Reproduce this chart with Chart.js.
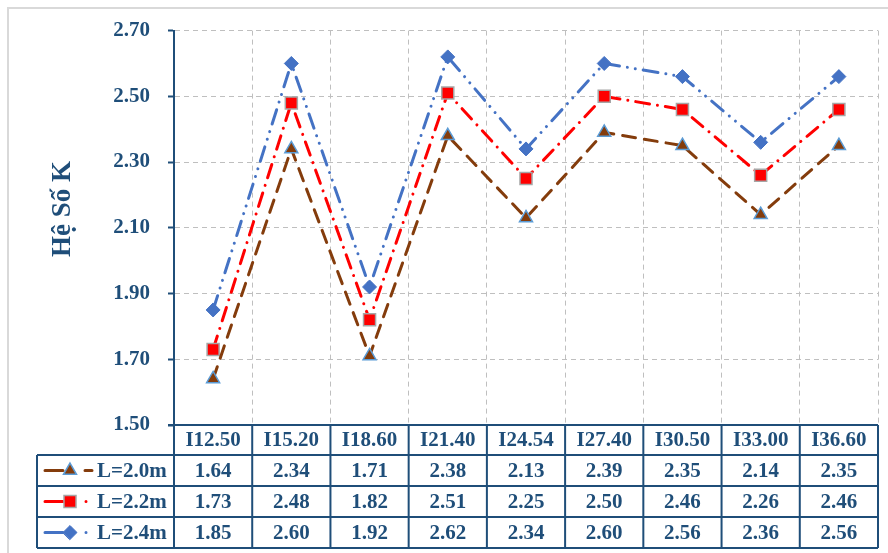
<!DOCTYPE html>
<html>
<head>
<meta charset="utf-8">
<script src="https://cdn.jsdelivr.net/npm/chart.js@4/dist/chart.umd.min.js"></script>
<style>
  html, body { margin: 0; padding: 0; background: #ffffff; }
  #wrap { position: relative; width: 888px; height: 553px; }
</style>
</head>
<body>
<div id="wrap"><canvas id="chart" width="888" height="553"></canvas></div>
<script>
// Sections along the horizontal axis
const categories = ['I12.50', 'I15.20', 'I18.60', 'I21.40', 'I24.54', 'I27.40', 'I30.50', 'I33.00', 'I36.60'];

// K coefficient for each span length
const seriesNames = ['L=2.0m', 'L=2.2m', 'L=2.4m'];
const kL20 = [1.64, 2.34, 1.71, 2.38, 2.13, 2.39, 2.35, 2.14, 2.35];
const kL22 = [1.73, 2.48, 1.82, 2.51, 2.25, 2.50, 2.46, 2.26, 2.46];
const kL24 = [1.85, 2.60, 1.92, 2.62, 2.34, 2.60, 2.56, 2.36, 2.56];

// Vertical axis tick values
const yTicks = [1.50, 1.70, 1.90, 2.10, 2.30, 2.50, 2.70];
const yTitle = 'Hệ Số K';

const INK = '#1F4E79';
const SERIF = "'Liberation Serif', 'Times New Roman', serif";

// Outer chart frame
const framePlugin = {
  id: 'frame',
  beforeDraw(chart) {
    const ctx = chart.ctx;
    ctx.save();
    ctx.strokeStyle = '#D9D9D9';
    ctx.lineWidth = 2;
    ctx.strokeRect(8, 8, 900, 600);
    ctx.restore();
  }
};

// Rotated axis title
const titlePlugin = {
  id: 'yTitle',
  afterDraw(chart) {
    const ctx = chart.ctx;
    ctx.save();
    ctx.translate(70, 209);
    ctx.rotate(-Math.PI / 2);
    ctx.font = 'bold 27px ' + SERIF;
    ctx.fillStyle = INK;
    ctx.textAlign = 'center';
    ctx.textBaseline = 'alphabetic';
    ctx.fillText(yTitle, 0, 0);
    ctx.restore();
  }
};

// Data table under the plot, aligned to the category scale
const tablePlugin = {
  id: 'dataTable',
  afterDraw(chart) {
    const { ctx, chartArea } = chart;
    const x = chart.scales.x;
    const n = categories.length;
    const half = (x.getPixelForValue(1) - x.getPixelForValue(0)) / 2;
    const colLeft = i => x.getPixelForValue(i) - half;
    const tableLeft = 37;
    const top = chartArea.bottom;
    const headerH = 30;
    const rowH = 31;
    const rowsTop = top + headerH;
    const bottom = rowsTop + rowH * chart.data.datasets.length;
    const right = chartArea.right;

    ctx.save();
    ctx.strokeStyle = INK;
    ctx.lineWidth = 2;
    ctx.beginPath();
    // horizontal rules
    ctx.moveTo(chartArea.left - 6, top); ctx.lineTo(right, top);
    ctx.moveTo(tableLeft, rowsTop); ctx.lineTo(right, rowsTop);
    for (let r = 1; r <= chart.data.datasets.length; r++) {
      const yy = rowsTop + rowH * r;
      ctx.moveTo(tableLeft, yy); ctx.lineTo(right, yy);
    }
    // vertical rules
    ctx.moveTo(tableLeft, rowsTop); ctx.lineTo(tableLeft, bottom);
    for (let i = 0; i <= n; i++) {
      const xx = i < n ? colLeft(i) : right;
      ctx.moveTo(xx, top); ctx.lineTo(xx, bottom);
    }
    ctx.stroke();

    ctx.fillStyle = INK;
    ctx.font = 'bold 21px ' + SERIF;
    ctx.textAlign = 'center';
    ctx.textBaseline = 'middle';
    chart.data.labels.forEach((lab, i) => {
      ctx.fillText(lab, x.getPixelForValue(i), top + headerH / 2 + 1);
    });

    chart.data.datasets.forEach((ds, r) => {
      const cy = rowsTop + rowH * r + rowH / 2 + 1;
      ds.data.forEach((v, i) => {
        ctx.fillText(v.toFixed(2), x.getPixelForValue(i), cy);
      });
      // legend key: line, marker, short trailing stroke
      ctx.save();
      ctx.strokeStyle = ds.borderColor;
      ctx.lineWidth = 3;
      ctx.lineCap = 'round';
      ctx.beginPath();
      ctx.moveTo(45, cy - 1); ctx.lineTo(63, cy - 1);
      if (r === 0) { ctx.moveTo(85, cy - 1); ctx.lineTo(92, cy - 1); }
      else { ctx.moveTo(86, cy - 1); ctx.lineTo(86.01, cy - 1); }
      ctx.stroke();
      ctx.fillStyle = ds.pointBackgroundColor;
      ctx.strokeStyle = ds.pointBorderColor;
      ctx.lineWidth = ds.pointBorderWidth;
      Chart.helpers.drawPoint(ctx, {
        pointStyle: ds.pointStyle,
        radius: ds.pointRadius,
        rotation: 0,
        borderWidth: ds.pointBorderWidth
      }, 70, cy - 1);
      ctx.restore();

      ctx.textAlign = 'left';
      ctx.fillText(seriesNames[r], 97, cy);
      ctx.textAlign = 'center';
    });
    ctx.restore();
  }
};

const chart = new Chart(document.getElementById('chart'), {
  type: 'line',
  data: {
    labels: categories,
    datasets: [
      {
        label: seriesNames[0], data: kL20,
        borderColor: '#843C0C', borderWidth: 3,
        borderDash: [13, 9], borderCapStyle: 'round',
        pointStyle: 'triangle', pointRadius: 7.5,
        pointBackgroundColor: '#843C0C', pointBorderColor: '#5B9BD5', pointBorderWidth: 1.5,
        fill: false, tension: 0
      },
      {
        label: seriesNames[1], data: kL22,
        borderColor: '#FF0000', borderWidth: 3,
        borderDash: [14, 8, 0.01, 8], borderCapStyle: 'round',
        pointStyle: 'rect', pointRadius: 8.5,
        pointBackgroundColor: '#FF0000', pointBorderColor: '#A6A6A6', pointBorderWidth: 1.5,
        fill: false, tension: 0
      },
      {
        label: seriesNames[2], data: kL24,
        borderColor: '#4472C4', borderWidth: 3,
        borderDash: [15, 8, 0.01, 8, 0.01, 8], borderCapStyle: 'round',
        pointStyle: 'rectRot', pointRadius: 7,
        pointBackgroundColor: '#4472C4', pointBorderColor: '#4472C4', pointBorderWidth: 1,
        fill: false, tension: 0
      }
    ]
  },
  options: {
    responsive: false,
    animation: false,
    devicePixelRatio: 1,
    layout: { padding: { left: 0, top: 27, right: 9, bottom: 128 } },
    plugins: {
      legend: { display: false },
      tooltip: { enabled: false }
    },
    scales: {
      x: {
        type: 'category',
        offset: true,
        grid: {
          offset: true,
          color: '#BFBFBF', lineWidth: 1,
          drawTicks: false
        },
        border: { display: false, dash: [5, 4] },
        ticks: { display: false },
        afterFit(scale) { scale.height = 0; }
      },
      y: {
        min: 1.5, max: 2.7,
        afterBuildTicks(scale) { scale.ticks = yTicks.map(v => ({ value: v })); },
        afterFit(scale) { scale.width = 174; },
        grid: {
          color: '#BFBFBF', lineWidth: 1,
          drawTicks: true, tickLength: 6,
          tickColor: INK, tickWidth: 2, tickBorderDash: []
        },
        border: { display: true, color: INK, width: 2, dash: [5, 4] },
        ticks: {
          padding: 18,
          color: INK,
          font: { family: SERIF, size: 21, weight: 'bold' },
          callback: v => Number(v).toFixed(2)
        }
      }
    }
  },
  plugins: [framePlugin, titlePlugin, tablePlugin]
});
</script>
</body>
</html>
